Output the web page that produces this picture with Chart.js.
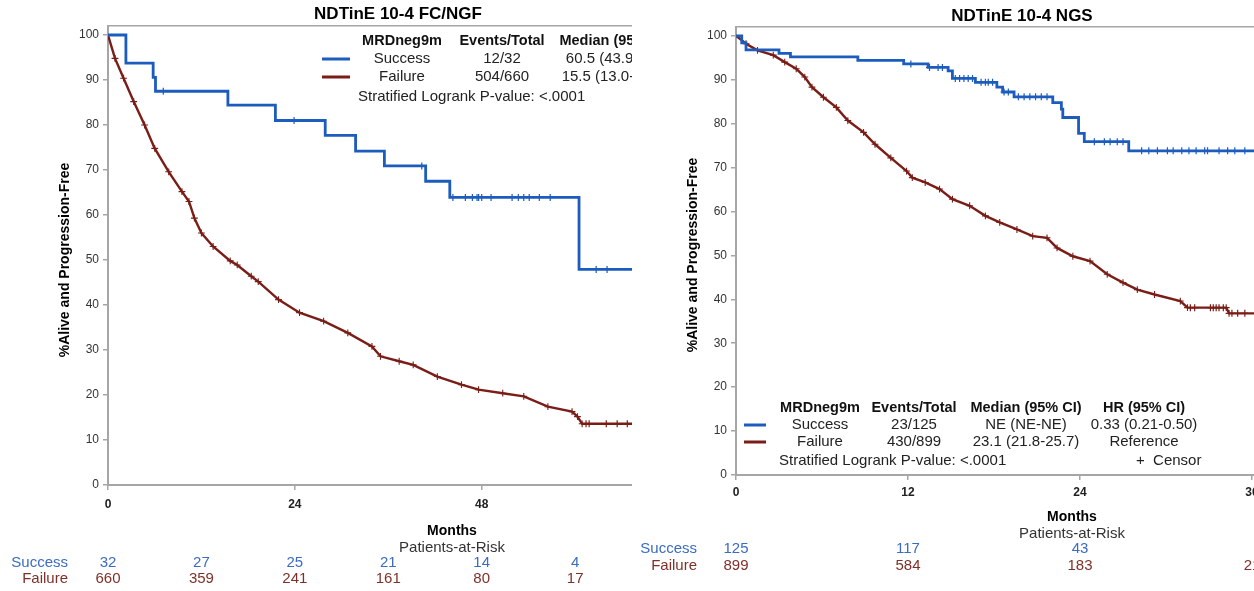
<!DOCTYPE html>
<html>
<head>
<meta charset="utf-8">
<title>NDTinE 10-4 PFS by MRD status</title>
<script src="https://cdn.jsdelivr.net/npm/chart.js@4/dist/chart.umd.min.js"></script>
<style>
  html, body { margin: 0; padding: 0; background: #fff; overflow: hidden; width: 1254px; height: 591px; }
  .panel { position: absolute; top: 0; height: 591px; overflow: hidden; }
  #leftPanel { left: 0; width: 632px; }
  #rightPanel { left: 636px; width: 618px; }
  .panel canvas { position: absolute; left: 0; top: 0; }
</style>
</head>
<body>
<div class="panel" id="leftPanel"><canvas id="ngfChart" width="780" height="591"></canvas></div>
<div class="panel" id="rightPanel"><canvas id="ngsChart" width="720" height="591"></canvas></div>
<script>
// ---------- FC/NGF panel ----------
const ngfSuccessMonths = [0, 2.3, 5.8, 6.1, 15.4, 21.5, 27.9, 31.8, 35.5, 40.8, 43.9, 60.5, 70];
const ngfSuccessPct    = [100, 93.75, 90.6, 87.5, 84.4, 81.0, 77.7, 74.2, 70.9, 67.5, 63.9, 47.9, 47.9];
const ngfSuccessCensor = [7.1, 23.9, 40.3, 44.3, 45.9, 46.8, 47.4, 47.6, 48.0, 49.2, 51.9, 52.7, 53.4, 54.1, 55.4, 56.8, 62.7, 64.1];

const ngfFailureMonths = [0, 0.9, 2.0, 3.3, 4.7, 6.0, 7.8, 9.5, 10.4, 11.1, 12.0, 13.5, 15.7, 16.6, 18.4, 19.3,
                          21.9, 24.6, 27.7, 30.8, 33.9, 35.0, 37.4, 39.2, 42.3, 45.4, 47.6, 50.7, 53.4, 56.5,
                          59.6, 60.3, 60.9, 70];
const ngfFailurePct    = [100, 94.8, 90.4, 85.2, 80.0, 74.8, 69.6, 65.2, 63.0, 59.3, 56.0, 53.0, 49.8, 48.9, 46.4, 45.2,
                          41.2, 38.3, 36.4, 33.8, 30.8, 28.6, 27.5, 26.7, 24.1, 22.3, 21.2, 20.4, 19.7, 17.4,
                          16.3, 15.2, 13.6, 13.6];
const ngfFailureCensor = [61.4, 61.8, 64.0, 65.4, 66.7];

const ngfXTicks = [0, 24, 48, 72];
const ngfRiskMonths  = [0, 12, 24, 36, 48, 60];
const ngfRiskSuccess = [32, 27, 25, 21, 14, 4];
const ngfRiskFailure = [660, 359, 241, 161, 80, 17];

const ngfLegendHeader  = ['MRDneg9m', 'Events/Total', 'Median (95% CI)'];
const ngfLegendSuccess = ['Success', '12/32', '60.5 (43.9-NE)'];
const ngfLegendFailure = ['Failure', '504/660', '15.5 (13.0-17.9)'];

// ---------- NGS panel ----------
const ngsSuccessMonths = [0, 0.4, 0.7, 3.0, 3.8, 8.5, 11.7, 13.4, 14.8, 15.1, 16.7, 18.2, 18.6, 19.4, 22.1, 22.7,
                          22.8, 23.9, 24.3, 27.4, 37];
const ngsSuccessPct    = [100, 98.4, 96.8, 96.0, 95.2, 94.4, 93.6, 92.8, 92.0, 90.3, 89.4, 88.3, 87.2, 86.1, 84.8, 83.3,
                          81.4, 77.8, 75.9, 73.8, 73.8];
const ngsSuccessCensor = [12.2, 13.5, 14.1, 14.4, 15.3, 15.6, 15.9, 16.2, 16.5, 17.1, 17.4, 17.6, 17.9, 18.7, 19.0,
                          19.7, 20.1, 20.5, 20.9, 21.3, 21.7, 25.0, 25.7, 26.1, 26.6, 27.0, 28.3, 28.8, 29.4, 30.1,
                          30.5, 31.1, 31.6, 32.1, 32.7, 32.9, 33.7, 34.3, 34.8, 35.5];

const ngsFailureMonths = [0, 0.7, 1.5, 2.6, 3.4, 4.2, 4.8, 5.3, 6.1, 7.0, 7.8, 8.9, 9.7, 10.8, 11.9, 12.3, 13.2,
                          14.2, 15.1, 16.3, 17.4, 18.4, 19.6, 20.7, 21.7, 22.4, 23.5, 24.7, 25.9, 27.0, 28.0,
                          29.2, 31.0, 31.5, 34.2, 34.4, 37];
const ngsFailurePct    = [100, 98.2, 96.7, 95.6, 94.0, 92.5, 90.6, 88.3, 86.0, 83.7, 80.7, 78.0, 75.3, 72.2, 69.2, 67.7, 66.6,
                          65.1, 62.8, 61.3, 59.0, 57.5, 55.9, 54.4, 54.0, 51.7, 49.8, 48.7, 45.7, 43.8, 42.2,
                          41.1, 39.6, 38.1, 38.1, 36.8, 36.8];
const ngsFailureCensor = [31.7, 32.0, 33.1, 33.3, 33.5, 33.7, 34.0, 34.6, 35.0, 35.5];

const ngsXTicks = [0, 12, 24, 36];
const ngsRiskMonths  = [0, 12, 24, 36];
const ngsRiskSuccess = [125, 117, 43, null];
const ngsRiskFailure = [899, 584, 183, 21];

const ngsLegendHeader  = ['MRDneg9m', 'Events/Total', 'Median (95% CI)', 'HR (95% CI)'];
const ngsLegendSuccess = ['Success', '23/125', 'NE (NE-NE)', '0.33 (0.21-0.50)'];
const ngsLegendFailure = ['Failure', '430/899', '23.1 (21.8-25.7)', 'Reference'];

const yTicks = [0, 10, 20, 30, 40, 50, 60, 70, 80, 90, 100];

// ---------- shared styling ----------
const FONT = '"Liberation Sans", Arial, Helvetica, sans-serif';
const SUCCESS_LINE = '#1c5cbf';
const FAILURE_LINE = '#7a1d16';
const SUCCESS_TEXT = '#3b6cc2';
const FAILURE_TEXT = '#7e3128';
const AXIS_GREY = '#a6a6a6';

function toPoints(xs, ys) { return xs.map((x, i) => ({ x: x, y: ys[i] })); }

// value of a Kaplan-Meier step function at time t (last step at or before t)
function stepAt(xs, ys, t) {
  let v = ys[0];
  for (let i = 0; i < xs.length; i++) { if (xs[i] <= t) v = ys[i]; else break; }
  return v;
}

function censorPoints(times, xs, ys) { return times.map(t => ({ x: t, y: stepAt(xs, ys, t) })); }

function decorPlugin(cfg) {
  return {
    id: 'kmDecor',
    afterDraw(chart) {
      const ctx = chart.ctx;
      const xs = chart.scales.x;
      const text = (s, x, y, font, color, align) => {
        ctx.font = font;
        ctx.fillStyle = color;
        ctx.textAlign = align || 'center';
        ctx.textBaseline = 'middle';
        ctx.fillText(s, x, y);
      };
      ctx.save();
      // chart title
      text(cfg.title, cfg.titleX, cfg.titleY, 'bold 17px ' + FONT, '#000');
      // vertical axis title
      ctx.save();
      ctx.translate(cfg.yTitleX, cfg.yTitleY);
      ctx.rotate(-Math.PI / 2);
      text('%Alive and Progression-Free', 0, 0, 'bold 14px ' + FONT, '#000');
      ctx.restore();
      // horizontal axis title and risk table heading
      text('Months', cfg.monthsX, cfg.monthsY, 'bold 14px ' + FONT, '#000');
      text('Patients-at-Risk', cfg.monthsX, cfg.monthsY + 17, '15px ' + FONT, '#333');

      // legend table
      const L = cfg.legend;
      L.header.forEach((s, i) => text(s, L.cols[i], L.rowY[0], 'bold 14.5px ' + FONT, '#111'));
      L.success.forEach((s, i) => text(s, L.cols[i], L.rowY[1], '15px ' + FONT, '#222'));
      L.failure.forEach((s, i) => text(s, L.cols[i], L.rowY[2], '15px ' + FONT, '#222'));
      ctx.lineWidth = 3;
      ctx.strokeStyle = SUCCESS_LINE;
      ctx.beginPath(); ctx.moveTo(L.lineX[0], L.rowY[1]); ctx.lineTo(L.lineX[1], L.rowY[1]); ctx.stroke();
      ctx.strokeStyle = FAILURE_LINE;
      ctx.beginPath(); ctx.moveTo(L.lineX[0], L.rowY[2]); ctx.lineTo(L.lineX[1], L.rowY[2]); ctx.stroke();
      text('Stratified Logrank P-value: <.0001', L.pX, L.rowY[3], '15px ' + FONT, '#222', 'left');
      if (L.censorX) text('+  Censor', L.censorX, L.rowY[3], '15px ' + FONT, '#222', 'left');

      // patients-at-risk rows
      const R = cfg.risk;
      text('Success', R.labelX, R.rowY[0], '15px ' + FONT, SUCCESS_TEXT, 'right');
      text('Failure', R.labelX, R.rowY[1], '15px ' + FONT, FAILURE_TEXT, 'right');
      R.months.forEach((m, i) => {
        const px = xs.getPixelForValue(m);
        if (R.success[i] !== null) text(String(R.success[i]), px, R.rowY[0], '15px ' + FONT, SUCCESS_TEXT);
        if (R.failure[i] !== null) text(String(R.failure[i]), px, R.rowY[1], '15px ' + FONT, FAILURE_TEXT);
      });
      ctx.restore();
    }
  };
}

function buildChart(canvasId, d) {
  const setTicks = list => scale => { scale.ticks = list.map(v => ({ value: v })); };
  return new Chart(document.getElementById(canvasId), {
    type: 'line',
    data: {
      datasets: [
        {
          label: 'Success',
          data: toPoints(d.sMonths, d.sPct),
          borderColor: SUCCESS_LINE, borderWidth: 2.8,
          stepped: true, pointRadius: 0, fill: false
        },
        {
          label: 'Success censored',
          data: censorPoints(d.sCensor, d.sMonths, d.sPct),
          showLine: false, pointStyle: 'cross', pointRadius: 3.5,
          borderColor: SUCCESS_LINE, pointBorderWidth: 1.2
        },
        {
          label: 'Failure',
          data: toPoints(d.fMonths, d.fPct),
          borderColor: FAILURE_LINE, borderWidth: 2.4, tension: 0, fill: false,
          pointStyle: 'cross', pointBorderWidth: 1.1, pointBorderColor: FAILURE_LINE,
          pointRadius: ctx => (ctx.dataIndex === 0 || ctx.dataIndex === d.fMonths.length - 1) ? 0 : 3.4
        },
        {
          label: 'Failure censored',
          data: censorPoints(d.fCensor, d.fMonths, d.fPct),
          showLine: false, pointStyle: 'cross', pointRadius: 3.5,
          borderColor: FAILURE_LINE, pointBorderWidth: 1.2
        }
      ]
    },
    options: {
      responsive: false,
      animation: false,
      events: [],
      layout: { padding: { left: 0, right: d.padRight, top: d.padTop, bottom: 0 } },
      plugins: { legend: { display: false }, tooltip: { enabled: false }, title: { display: false } },
      scales: {
        x: {
          type: 'linear', position: 'bottom', min: 0, max: d.xMax,
          afterBuildTicks: setTicks(d.xTicks),
          afterFit: s => { s.height = d.xAxisHeight; },
          grid: { drawOnChartArea: false, drawTicks: true, tickLength: 5, color: AXIS_GREY, lineWidth: 1.5 },
          border: { display: true, color: AXIS_GREY, width: 2 },
          ticks: { font: { family: FONT, size: 12, weight: 'bold' }, color: '#222', padding: d.xTickPad, maxRotation: 0 }
        },
        xTop: {
          type: 'linear', position: 'top', min: 0, max: 1,
          afterFit: s => { s.height = 0; },
          grid: { display: false },
          border: { display: true, color: AXIS_GREY, width: 1.5 },
          ticks: { display: false }
        },
        y: {
          type: 'linear', min: 0, max: 102,
          afterBuildTicks: setTicks(yTicks),
          afterFit: s => { s.width = d.yAxisWidth; },
          grid: { drawOnChartArea: false, drawTicks: true, tickLength: 5, color: AXIS_GREY, lineWidth: 1.5 },
          border: { display: true, color: AXIS_GREY, width: 2 },
          ticks: { font: { family: FONT, size: 12 }, color: '#333', padding: 4 }
        }
      }
    },
    plugins: [decorPlugin(d.decor)]
  });
}

buildChart('ngfChart', {
  sMonths: ngfSuccessMonths, sPct: ngfSuccessPct, sCensor: ngfSuccessCensor,
  fMonths: ngfFailureMonths, fPct: ngfFailurePct, fCensor: ngfFailureCensor,
  xMax: 84, xTicks: ngfXTicks,
  yAxisWidth: 108, xAxisHeight: 106, padTop: 26, padRight: 18, xTickPad: 7,
  decor: {
    title: 'NDTinE 10-4 FC/NGF', titleX: 398, titleY: 14,
    yTitleX: 65, yTitleY: 260,
    monthsX: 452, monthsY: 531,
    legend: {
      header: ngfLegendHeader, success: ngfLegendSuccess, failure: ngfLegendFailure,
      cols: [402, 502, 615], rowY: [41, 59, 77, 97], lineX: [322, 350], pX: 358
    },
    risk: {
      months: ngfRiskMonths, success: ngfRiskSuccess, failure: ngfRiskFailure,
      labelX: 68, rowY: [563, 579]
    }
  }
});

buildChart('ngsChart', {
  sMonths: ngsSuccessMonths, sPct: ngsSuccessPct, sCensor: ngsSuccessCensor,
  fMonths: ngsFailureMonths, fPct: ngsFailurePct, fCensor: ngsFailureCensor,
  xMax: 42, xTicks: ngsXTicks,
  yAxisWidth: 100, xAxisHeight: 116, padTop: 27, padRight: 18, xTickPad: 5,
  decor: {
    title: 'NDTinE 10-4 NGS', titleX: 386, titleY: 16,
    yTitleX: 57, yTitleY: 255,
    monthsX: 436, monthsY: 517,
    legend: {
      header: ngsLegendHeader, success: ngsLegendSuccess, failure: ngsLegendFailure,
      cols: [184, 278, 390, 508], rowY: [408, 425, 442, 461], lineX: [108, 130], pX: 143, censorX: 500
    },
    risk: {
      months: ngsRiskMonths, success: ngsRiskSuccess, failure: ngsRiskFailure,
      labelX: 61, rowY: [549, 566]
    }
  }
});
</script>
</body>
</html>
